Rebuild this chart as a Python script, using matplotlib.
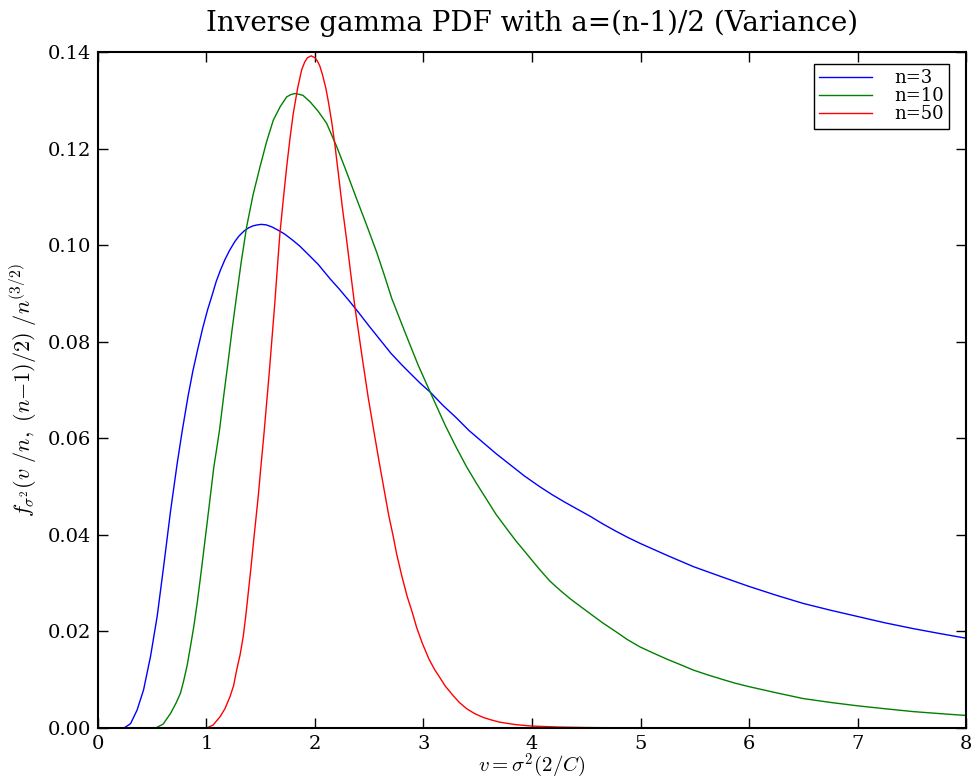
import matplotlib
matplotlib.use("Agg")
import matplotlib.pyplot as plt

plt.rcParams['font.family'] = ['DejaVu Serif']
plt.rcParams['mathtext.fontset'] = 'cm'

# values
x_n3 = [0, 0.24, 0.30, 0.36, 0.42, 0.484, 0.546, 0.607, 0.668, 0.73, 0.776, 0.83, 0.875,
        0.92, 0.965, 1.01, 1.05, 1.09, 1.13, 1.17, 1.21, 1.26, 1.30, 1.35, 1.39, 1.43,
        1.47, 1.505, 1.55, 1.6, 1.66, 1.72, 1.79, 1.86, 1.95, 2.03, 2.14, 2.22, 2.31,
        2.4, 2.5, 2.6, 2.7, 2.8, 2.88, 2.97, 3.06, 3.18, 3.3, 3.42, 3.55, 3.67, 3.8,
        3.93, 4.07, 4.18, 4.3, 4.42, 4.54, 4.65, 4.77, 4.88, 5.0, 5.25, 5.49, 5.75,
        5.99, 6.25, 6.5, 6.75, 7.0, 7.25, 7.51, 7.75, 8.0]
y_n3 = [0, 0, 0.0009, 0.0037, 0.0079, 0.0148, 0.0232, 0.0338, 0.0448, 0.0548, 0.0615,
        0.0687, 0.0740, 0.0785, 0.0828, 0.0866, 0.0895, 0.0925, 0.0949, 0.0970, 0.0988,
        0.1007, 0.1019, 0.1030, 0.1036, 0.1040, 0.1042, 0.1043, 0.1042, 0.1038, 0.1031,
        0.1023, 0.1011, 0.0998, 0.0978, 0.0960, 0.0930, 0.0910, 0.0886, 0.0861, 0.0832,
        0.0804, 0.0776, 0.0752, 0.0734, 0.0714, 0.0696, 0.0668, 0.0643, 0.0616, 0.0591,
        0.0568, 0.0545, 0.0522, 0.0500, 0.0484, 0.0468, 0.0453, 0.0438, 0.0423, 0.0408,
        0.0395, 0.0382, 0.0357, 0.0334, 0.0313, 0.0294, 0.0275, 0.0258, 0.0244, 0.0231,
        0.0218, 0.0206, 0.0196, 0.0186]

x_n10 = [0, 0.53, 0.6, 0.668, 0.72, 0.76, 0.79, 0.822, 0.85, 0.883, 0.915, 0.945, 0.975,
         1.006, 1.037, 1.068, 1.095, 1.12, 1.16, 1.2, 1.236, 1.272, 1.32, 1.37, 1.43,
         1.493, 1.555, 1.616, 1.68, 1.739, 1.78, 1.816, 1.86, 1.89, 1.954, 2.03, 2.108,
         2.15, 2.2, 2.29, 2.385, 2.47, 2.569, 2.64, 2.707, 2.78, 2.85, 2.95, 3.075, 3.2,
         3.3, 3.397, 3.49, 3.58, 3.67, 3.766, 3.85, 3.95, 4.06, 4.166, 4.26, 4.35, 4.445,
         4.535, 4.65, 4.77, 4.88, 4.995, 5.12, 5.25, 5.37, 5.487, 5.62, 5.75, 5.87, 5.994,
         6.25, 6.5, 6.75, 7.0, 7.25, 7.514, 7.75, 8.0]
y_n10 = [0, 0, 0.0008, 0.003, 0.0052, 0.0072, 0.0098, 0.0130, 0.0166, 0.0210, 0.0260,
         0.0313, 0.0368, 0.0425, 0.0483, 0.0541, 0.0580, 0.0617, 0.0690, 0.0760, 0.0825,
         0.0886, 0.0965, 0.1038, 0.1105, 0.1162, 0.1215, 0.1259, 0.1287, 0.1307, 0.1312,
         0.1314, 0.1312, 0.1310, 0.1297, 0.1277, 0.1252, 0.1230, 0.1204, 0.1152, 0.1095,
         0.1045, 0.0985, 0.0937, 0.0890, 0.0848, 0.0808, 0.0752, 0.0689, 0.0627, 0.0582,
         0.0541, 0.0506, 0.0474, 0.0442, 0.0413, 0.0388, 0.0361, 0.0331, 0.0304, 0.0285,
         0.0268, 0.0252, 0.0237, 0.0218, 0.0200, 0.0183, 0.0168, 0.0155, 0.0142, 0.0131,
         0.0120, 0.0110, 0.0101, 0.0093, 0.0086, 0.0073, 0.0061, 0.0053, 0.0046, 0.0040,
         0.0034, 0.0030, 0.0026]

x_n50 = [0, 1.0, 1.06, 1.124, 1.17, 1.217, 1.25, 1.278, 1.31, 1.339, 1.362, 1.385, 1.408,
         1.431, 1.454, 1.477, 1.503, 1.53, 1.555, 1.58, 1.604, 1.628, 1.652, 1.677, 1.708,
         1.739, 1.77, 1.8, 1.84, 1.877, 1.905, 1.93, 1.965, 2.0, 2.023, 2.046, 2.07, 2.1,
         2.125, 2.154, 2.185, 2.215, 2.25, 2.292, 2.33, 2.369, 2.4, 2.43, 2.46, 2.49,
         2.52, 2.55, 2.6, 2.64, 2.68, 2.72, 2.753, 2.8, 2.85, 2.9, 2.937, 2.99, 3.05,
         3.1, 3.152, 3.2, 3.27, 3.33, 3.398, 3.47, 3.55, 3.62, 3.705, 3.85, 4.0, 4.25,
         4.5, 5.0, 8.0]
y_n50 = [0, 0, 0.0006, 0.0023, 0.0040, 0.0065, 0.0088, 0.0120, 0.0152, 0.0190, 0.0232,
         0.0280, 0.0328, 0.0380, 0.0430, 0.0480, 0.0545, 0.0610, 0.0675, 0.0740, 0.0808,
         0.0875, 0.0950, 0.1025, 0.1095, 0.1162, 0.1222, 0.1273, 0.1325, 0.1363, 0.1379,
         0.1388, 0.1392, 0.1388, 0.1381, 0.1370, 0.1352, 0.1325, 0.1295, 0.1255, 0.1205,
         0.1149, 0.1082, 0.1010, 0.0940, 0.0870, 0.0822, 0.0775, 0.0730, 0.0685, 0.0645,
         0.0605, 0.0540, 0.0490, 0.0440, 0.0398, 0.0360, 0.0315, 0.0272, 0.0237, 0.0208,
         0.0175, 0.0143, 0.0122, 0.0104, 0.0087, 0.0068, 0.0053, 0.0040, 0.0030, 0.0022,
         0.0017, 0.0012, 0.0007, 0.0004, 0.0002, 0.0001, 0, 0]

labels = ['n=3', 'n=10', 'n=50']
colors = ['b', 'g', 'r']

fig = plt.figure(figsize=(9.74, 7.84), dpi=100)
ax = fig.add_axes([0.1006, 0.0714, 0.8912, 0.8623])

ax.plot(x_n3, y_n3, color=colors[0], lw=1.0, label=labels[0])
ax.plot(x_n10, y_n10, color=colors[1], lw=1.0, label=labels[1])
ax.plot(x_n50, y_n50, color=colors[2], lw=1.0, label=labels[2])

ax.set_xlim(0, 8)
ax.set_ylim(0, 0.14)
ax.set_xticks(range(9))
ax.set_yticks([0.0, 0.02, 0.04, 0.06, 0.08, 0.10, 0.12, 0.14])
ax.set_yticklabels(['0.00', '0.02', '0.04', '0.06', '0.08', '0.10', '0.12', '0.14'])
ax.tick_params(direction='in', top=True, right=True, length=7, width=1, labelsize=14, pad=5)
for s in ax.spines.values():
    s.set_linewidth(1.5)

ax.set_title('Inverse gamma PDF with a=(n-1)/2 (Variance)', fontsize=20, pad=15)
ax.set_xlabel(r'$v{=}\sigma^2(2/C)$', fontsize=15, labelpad=-1)
ax.set_ylabel(r'$f_{\sigma^2}(v\ /n,\ (n{-}1)/2)\ /n^{(3/2)}$', fontsize=16, labelpad=6)

leg = ax.legend(loc='upper right', bbox_to_anchor=(0.9807, 0.9822), borderaxespad=0,
                fontsize=13, fancybox=False, framealpha=1, handlelength=2.9,
                handletextpad=1.25, labelspacing=0.0, borderpad=0.3)
leg.get_frame().set_edgecolor('black')

fig.savefig('out.png', dpi=100, facecolor='white')
